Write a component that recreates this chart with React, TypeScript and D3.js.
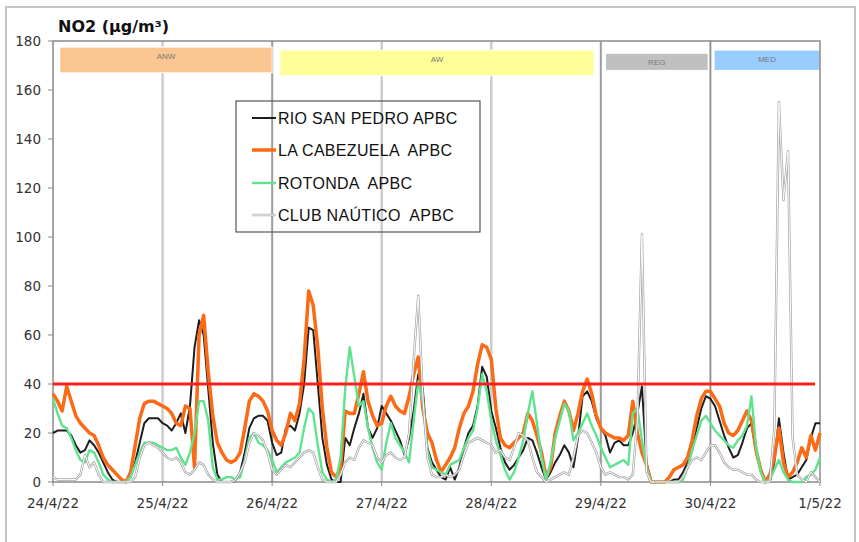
import React from "react";
import * as d3 from "d3";

// Hourly NO2 values (µg/m³), 24/4/22 00:00 → 1/5/22 00:00
const rioSanPedro = [
  20, 21, 21, 21, 19, 15, 12, 13, 17, 15, 12, 8, 4, 1, 0, 0, 0, 2, 8, 16, 24, 26, 26, 26,
  24, 23, 21, 24, 28, 20, 31, 55, 66, 60, 38, 16, 3, 0, 0, 0, 1, 4, 12, 22, 26, 27, 27, 25,
  16, 11, 12, 22, 23, 21, 28, 40, 63, 62, 40, 18, 7, 1, 0, 0, 18, 15, 22, 28, 36, 22, 18, 22,
  31, 28, 25, 21, 17, 11, 18, 29, 44, 38, 14, 8, 5, 2, 1, 6, 1, 6, 14, 20, 23, 31, 47, 43,
  29, 22, 14, 8, 5, 7, 10, 13, 18, 17, 12, 6, 1, 4, 8, 11, 15, 12, 6, 18, 35, 37, 33, 26,
  22, 19, 12, 16, 17, 15, 15, 20, 28, 39, 8, 0, 0, 0, 0, 0, 1, 1, 4, 8, 13, 22, 30, 35,
  34, 31, 25, 19, 14, 10, 11, 16, 22, 24, 12, 5, 1, 0, 8, 26, 12, 1, 2, 3, 6, 9, 18, 24,
  24,
];

const laCabezuela = [
  36, 33, 29, 39, 33, 27, 24, 22, 20, 19, 15, 10, 7, 5, 3, 1, 0, 4, 15, 26, 32, 33, 33, 32,
  31, 30, 28, 24, 23, 31, 30, 6, 60, 68, 45, 27, 16, 12, 9, 8, 9, 12, 22, 33, 36, 35, 33, 29,
  21, 17, 15, 20, 28, 25, 32, 50, 78, 72, 55, 30, 14, 4, 2, 6, 29, 28, 28, 36, 45, 33, 27, 23,
  24, 31, 35, 31, 29, 28, 35, 44, 51, 30, 20, 16, 9, 4, 7, 10, 14, 22, 28, 31, 37, 48, 56, 55,
  50, 30, 18, 15, 14, 16, 18, 20, 28, 25, 19, 12, 2, 6, 20, 27, 33, 29, 21, 28, 37, 42, 36, 27,
  22, 20, 19, 18, 18, 17, 19, 33, 20, 12, 7, 0, 0, 0, 0, 2, 5, 6, 7, 10, 17, 27, 34, 37,
  37, 34, 31, 24, 20, 19, 21, 25, 29, 25, 13, 5, 0, 3, 10, 22, 8, 2, 4, 8, 14, 10, 19, 13,
  20,
];

const rotonda = [
  34, 28, 23, 22, 18, 13, 9, 8, 13, 12, 8, 3, 1, 0, 0, 0, 0, 2, 7, 12, 16, 16, 16, 15,
  14, 13, 13, 14, 10, 7, 12, 20, 33, 33, 25, 6, 1, 1, 2, 2, 1, 2, 9, 18, 20, 16, 15, 13,
  9, 4, 6, 8, 9, 10, 12, 22, 30, 28, 15, 4, 1, 0, 1, 10, 38, 55, 43, 31, 33, 22, 14, 8,
  5, 16, 24, 18, 15, 12, 8, 25, 41, 33, 13, 6, 5, 4, 3, 7, 8, 9, 14, 18, 21, 30, 44, 37,
  25, 17, 11, 5, 1, 4, 10, 17, 28, 37, 24, 10, 1, 8, 18, 25, 32, 29, 17, 20, 24, 28, 23, 19,
  14, 10, 6, 7, 8, 9, 7, 28, 30, 17, 6, 0, 0, 0, 0, 0, 0, 0, 1, 6, 13, 19, 25, 27,
  24, 21, 19, 17, 15, 14, 17, 19, 23, 35, 14, 4, 0, 1, 5, 9, 4, 1, 0, 0, 0, 2, 3, 5,
  10,
];

const clubNautico = [
  2, 1, 1, 1, 1, 1, 3, 11, 6, 8, 3, 0, 0, 0, 0, 0, 0, 0, 2, 10, 15, 16, 15, 14,
  12, 10, 9, 10, 8, 4, 3, 5, 8, 7, 3, 1, 0, 0, 0, 0, 1, 4, 8, 16, 20, 19, 17, 12,
  5, 3, 5, 7, 6, 8, 10, 12, 13, 12, 6, 1, 0, 0, 0, 3, 8, 10, 9, 14, 17, 16, 15, 10,
  8, 11, 12, 10, 9, 10, 20, 50, 76, 35, 10, 3, 2, 2, 3, 2, 3, 5, 11, 16, 17, 18, 17, 16,
  15, 12, 13, 10, 9, 14, 20, 19, 17, 10, 4, 2, 0, 1, 2, 3, 4, 3, 10, 19, 21, 20, 16, 12,
  6, 3, 4, 3, 2, 2, 1, 3, 25, 101, 4, 0, 0, 0, 0, 0, 0, 0, 2, 6, 9, 10, 9, 12,
  15, 15, 12, 8, 6, 5, 5, 4, 3, 3, 1, 0, 0, 0, 22, 155, 115, 135, 18, 3, 1, 0, 4, 2,
  0,
];

const seriesNames = ["RIO SAN PEDRO APBC", "LA CABEZUELA  APBC", "ROTONDA  APBC", "CLUB NAÚTICO  APBC"];
const dayLabels = ["24/4/22", "25/4/22", "26/4/22", "27/4/22", "28/4/22", "29/4/22", "30/4/22", "1/5/22"];
const yTicks = [0, 20, 40, 60, 80, 100, 120, 140, 160, 180];
const limitValue = 40;

// Situation bands (hours from start; value extents)
const bandLabels = ["ANW", "AW", "REG", "MED"];
const bandStart = [1.5, 49.7, 121, 144.8];
const bandEnd = [48, 118.5, 143.5, 168];
const bandTop = [177.5, 176.3, 175, 176.3];
const bandBottom = [167, 165.8, 168, 168];
const bandColors = ["#f9c591", "#ffff99", "#c0c0c0", "#99ccff"];
const boundaryDays = [2, 5, 6];

const W = 859;
const H = 542;
const M = { left: 53, right: 820, top: 41, bottom: 482 };

export default function App() {
  const x = d3.scaleLinear().domain([0, 168]).range([M.left, M.right]);
  const y = d3.scaleLinear().domain([0, 180]).range([M.bottom, M.top]);
  const line = d3
    .line<number>()
    .x((_, i) => x(i))
    .y((d) => y(d));

  const tickFont = "DejaVu Sans, Verdana, sans-serif";
  const legendFont = "Liberation Sans, Arial, sans-serif";

  const legendX = 236;
  const legendY = 101;
  const legendRows = [118, 150, 183, 215];
  const colors = ["#1e1e1e", "#fb6a16", "#5fe38f", "#a4a4a4"];
  const widths = [2, 3.5, 2.4, 2.4];

  return (
    <div style={{ position: "fixed", left: 0, top: 0 }}>
      <svg width={W} height={H} style={{ display: "block", background: "#fff" }}>
        <rect x={6} y={7} width={849} height={545} fill="#fff" stroke="#c4c4c4" strokeWidth={2} />

        {/* title */}
        <text x={58} y={32} fontFamily={tickFont} fontWeight="bold" fontSize={16} fill="#111">
          NO2 (µg/m³)
        </text>

        {/* vertical day grid */}
        {dayLabels.map((d, i) =>
          i > 0 && i < 7 ? (
            <line key={"g" + d} x1={x(i * 24)} x2={x(i * 24)} y1={M.top} y2={M.bottom} stroke="#cdcdcd" strokeWidth={2.5} />
          ) : null
        )}
        {boundaryDays.map((d) => (
          <line key={"b" + d} x1={x(d * 24)} x2={x(d * 24)} y1={M.top} y2={M.bottom} stroke="#8e8e8e" strokeWidth={1.2} />
        ))}

        {/* bands */}
        {bandLabels.map((b, i) => (
          <g key={b}>
            <rect
              x={x(bandStart[i])}
              y={y(bandTop[i])}
              width={x(bandEnd[i]) - x(bandStart[i])}
              height={y(bandBottom[i]) - y(bandTop[i])}
              fill={bandColors[i]}
              stroke="#ffffff"
              strokeWidth={1}
            />
            <text
              x={(x(bandStart[i]) + x(bandEnd[i])) / 2}
              y={y(bandTop[i]) + 12}
              textAnchor="middle"
              fontFamily={legendFont}
              fontSize={8}
              fill="#7a7a7a"
            >
              {b}
            </text>
          </g>
        ))}

        {/* plot frame */}
        <rect x={M.left} y={M.top} width={M.right - M.left} height={M.bottom - M.top} fill="none" stroke="#8a8a8a" strokeWidth={1.5} />

        {/* y axis ticks */}
        {yTicks.map((t) => (
          <g key={"y" + t}>
            <line x1={M.left - 5} x2={M.left} y1={y(t)} y2={y(t)} stroke="#8a8a8a" strokeWidth={1} />
            <text x={41} y={y(t) + 5} textAnchor="end" fontFamily={tickFont} fontSize={13.5} fill="#333">
              {t}
            </text>
          </g>
        ))}

        {/* x axis labels */}
        {dayLabels.map((d, i) => (
          <g key={"x" + d}>
            <line x1={x(i * 24)} x2={x(i * 24)} y1={M.bottom} y2={M.bottom + 4} stroke="#8a8a8a" strokeWidth={1} />
            <text x={x(i * 24)} y={508} textAnchor="middle" fontFamily={tickFont} fontSize={13.5} fill="#333">
              {d}
            </text>
          </g>
        ))}

        {/* series */}
        <path d={line(rioSanPedro) || ""} fill="none" stroke={colors[0]} strokeWidth={widths[0]} strokeLinejoin="round" />
        <path d={line(laCabezuela) || ""} fill="none" stroke={colors[1]} strokeWidth={widths[1]} strokeLinejoin="round" />
        <path d={line(rotonda) || ""} fill="none" stroke={colors[2]} strokeWidth={widths[2]} strokeLinejoin="round" />
        <path d={line(clubNautico) || ""} fill="none" stroke={colors[3]} strokeWidth={widths[3]} strokeLinejoin="round" />
        <path d={line(clubNautico) || ""} fill="none" stroke="#ffffff" strokeWidth={1} strokeLinejoin="round" />

        {/* limit line */}
        <line x1={M.left} x2={815} y1={y(limitValue)} y2={y(limitValue)} stroke="#ff1f1f" strokeWidth={3} />

        {/* legend */}
        <rect x={legendX} y={legendY} width={244} height={131} fill="none" stroke="#555" strokeWidth={1.2} />
        {seriesNames.map((n, i) => (
          <g key={n}>
            <line x1={252} x2={276} y1={legendRows[i]} y2={legendRows[i]} stroke={colors[i]} strokeWidth={widths[i]} />
            {i === 3 && <line x1={252} x2={276} y1={legendRows[i]} y2={legendRows[i]} stroke="#fff" strokeWidth={1} />}
            <text
              x={278}
              y={legendRows[i] + 6}
              fontFamily={legendFont}
              fontSize={16}
              letterSpacing={0.3}
              fill="#111"
              style={{ whiteSpace: "pre" }}
            >
              {n}
            </text>
          </g>
        ))}
      </svg>
    </div>
  );
}
